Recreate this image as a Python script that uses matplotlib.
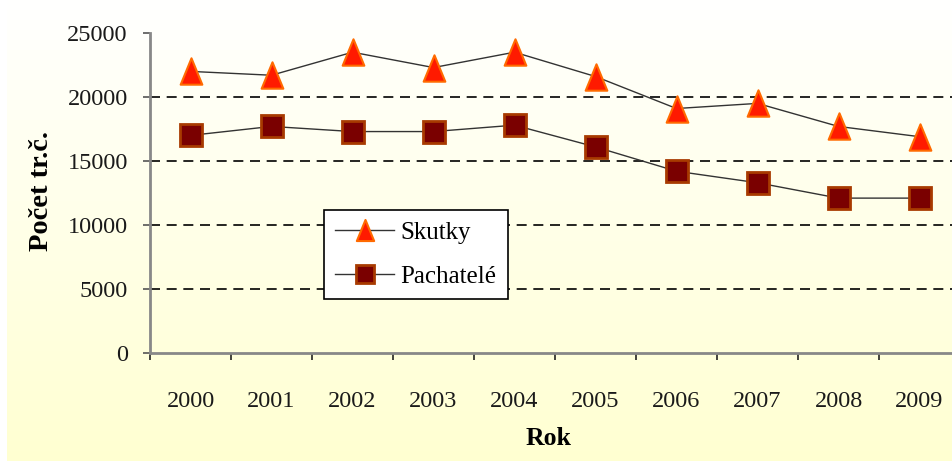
import matplotlib
matplotlib.use("Agg")
import matplotlib.pyplot as plt
import numpy as np
from matplotlib.path import Path

years = ["2000", "2001", "2002", "2003", "2004", "2005", "2006", "2007", "2008", "2009"]
skutky = [22000, 21700, 23500, 22300, 23500, 21600, 19100, 19500, 17700, 16900]
pachatele = [17000, 17700, 17300, 17300, 17800, 16100, 14200, 13300, 12100, 12100]
yticks = [0, 5000, 10000, 15000, 20000, 25000]

plt.rcParams['font.family'] = ['Liberation Serif', 'DejaVu Serif']

W, H = 952, 461
fig = plt.figure(figsize=(W / 100, H / 100), dpi=100)

# background gradient
bg = fig.add_axes([7 / W, 0, 1 - 7 / W, 1], zorder=-10)
top = np.array([1.0, 1.0, 1.0])
bot = np.array([1.0, 1.0, 0.82])
t = np.linspace(0, 1, 256)[:, None]
grad = top[None, :] * (1 - t) + bot[None, :] * t
bg.imshow(grad[:, None, :], aspect='auto', extent=[0, 1, 0, 1])
bg.axis('off')

left, right, ytop, ybot = 150, 960, 33, 353
ax = fig.add_axes([left / W, (H - ybot) / H, (right - left) / W, (ybot - ytop) / H])
ax.patch.set_alpha(0)

tri = Path([(0, 1), (-0.82, -1), (0.82, -1), (0, 1)],
           [Path.MOVETO, Path.LINETO, Path.LINETO, Path.CLOSEPOLY])

x = np.arange(len(years))
ax.plot(x, skutky, color='#333333', lw=1.0, marker=tri, markersize=19,
        markerfacecolor='#FF1A00', markeredgecolor='#FF6A00', markeredgewidth=1.5,
        label='Skutky', zorder=3)
ax.plot(x, pachatele, color='#333333', lw=1.0, marker='s', markersize=15.5,
        markerfacecolor='#7A0000', markeredgecolor='#A83A00', markeredgewidth=2,
        label='Pachatelé', zorder=3)

ax.set_xlim(-0.5, len(years) - 0.5)
ax.set_ylim(0, 25000)
ax.set_yticks(yticks)
ax.set_yticklabels([str(v) for v in yticks])
for v in yticks[1:-1]:
    ax.axhline(v, color='black', lw=1.2, ls=(0, (6, 4)), zorder=1)

ax.set_xticks(x)
ax.set_xticklabels(years)
ax.set_xticks(np.arange(len(years) + 1) - 0.5, minor=True)
ax.tick_params(axis='x', which='major', length=0, pad=27, labelsize=17.5, labelcolor='#1a1a1a')
ax.tick_params(axis='x', which='minor', length=5, width=1.2, color='#222222', direction='out')
ax.tick_params(axis='y', length=5, width=1.2, color='#555555', pad=11, labelsize=17.5, labelcolor='#1a1a1a')

for s in ['top', 'right']:
    ax.spines[s].set_visible(False)
for s in ['left', 'bottom']:
    ax.spines[s].set_color('#888888')
    ax.spines[s].set_linewidth(2)

fig.text(549 / W, 1 - 438 / H, 'Rok', ha='center', va='center', fontsize=18.5, fontweight='bold')
fig.text(41 / W, 1 - 191 / H, 'Počet tr.č.', ha='center', va='center', fontsize=20.5,
         fontweight='bold', rotation=90)

leg = ax.legend(loc='upper left', bbox_to_anchor=((324 - left) / (right - left), (ybot - 210) / (ybot - ytop)),
                frameon=True, fancybox=False, fontsize=18, borderpad=0.45, labelspacing=0.85,
                handlelength=2.35, handletextpad=0.25, markerscale=0.8, borderaxespad=0)
leg.get_frame().set_edgecolor('black')
leg.get_frame().set_linewidth(1.2)
leg.get_frame().set_facecolor('white')
leg.get_frame().set_alpha(1)

fig.savefig('out.png', dpi=100)
